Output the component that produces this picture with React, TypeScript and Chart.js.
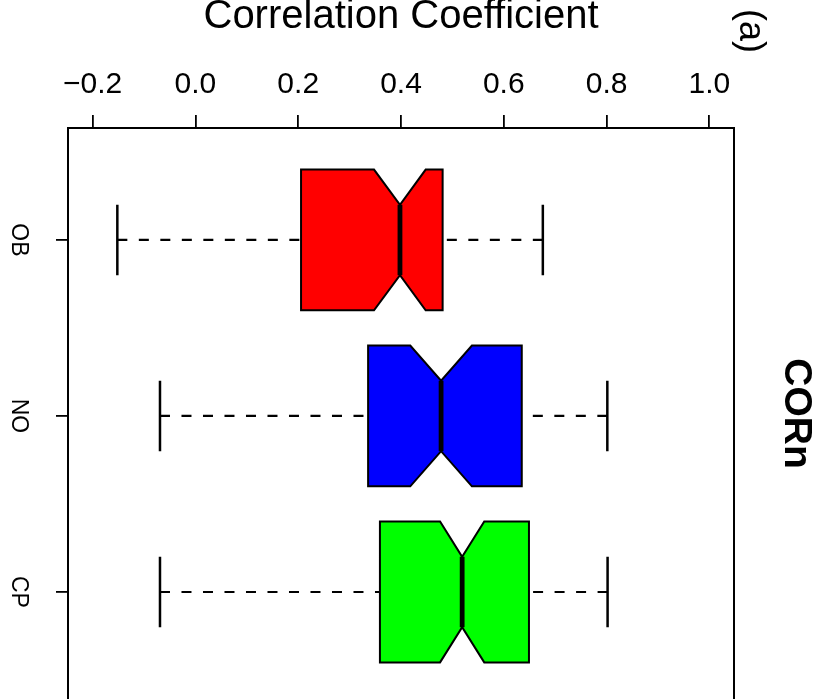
import React, { useEffect, useRef } from "react";
import { Chart, registerables } from "chart.js";

Chart.register(...registerables);

const categories = ["OB", "NO", "CP"];
const whiskerLow = [-0.152, -0.069, -0.069];
const q1 = [0.2055, 0.336, 0.359];
const notchLow = [0.3475, 0.418, 0.476];
const median = [0.398, 0.478, 0.519];
const notchHigh = [0.448, 0.538, 0.562];
const q3 = [0.481, 0.635, 0.649];
const whiskerHigh = [0.676, 0.8015, 0.802];
const boxColors = ["#FF0000", "#0000FF", "#00FF00"];
const xTickValues = [-0.2, 0.0, 0.2, 0.4, 0.6, 0.8, 1.0];
const xTickLabels = ["\u22120.2", "0.0", "0.2", "0.4", "0.6", "0.8", "1.0"];

const FONT = "'Liberation Sans', Arial, Helvetica, sans-serif";

const boxPlugin = {
  id: "notchedBoxes",
  afterDatasetsDraw(chart: any) {
    const ctx = chart.ctx;
    const xs = chart.scales.x;
    const ys = chart.scales.y;
    ctx.save();
    for (let i = 0; i < categories.length; i++) {
      const pos = i + 1;
      const yc = ys.getPixelForValue(pos);
      const yTop = ys.getPixelForValue(pos - 0.4);
      const yBot = ys.getPixelForValue(pos + 0.4);
      const nTop = ys.getPixelForValue(pos - 0.2);
      const nBot = ys.getPixelForValue(pos + 0.2);
      const px = (v: number) => xs.getPixelForValue(v);

      // whiskers
      ctx.strokeStyle = "#000";
      ctx.lineWidth = 2.2;
      ctx.setLineDash([10, 11.5]);
      ctx.beginPath();
      ctx.moveTo(px(whiskerLow[i]), yc);
      ctx.lineTo(px(q1[i]), yc);
      ctx.moveTo(px(whiskerHigh[i]), yc);
      ctx.lineTo(px(q3[i]), yc);
      ctx.stroke();
      ctx.setLineDash([]);

      // staples
      ctx.lineWidth = 2.5;
      ctx.beginPath();
      ctx.moveTo(px(whiskerLow[i]), nTop);
      ctx.lineTo(px(whiskerLow[i]), nBot);
      ctx.moveTo(px(whiskerHigh[i]), nTop);
      ctx.lineTo(px(whiskerHigh[i]), nBot);
      ctx.stroke();

      // notched box
      ctx.beginPath();
      ctx.moveTo(px(q1[i]), yTop);
      ctx.lineTo(px(notchLow[i]), yTop);
      ctx.lineTo(px(median[i]), nTop);
      ctx.lineTo(px(notchHigh[i]), yTop);
      ctx.lineTo(px(q3[i]), yTop);
      ctx.lineTo(px(q3[i]), yBot);
      ctx.lineTo(px(notchHigh[i]), yBot);
      ctx.lineTo(px(median[i]), nBot);
      ctx.lineTo(px(notchLow[i]), yBot);
      ctx.lineTo(px(q1[i]), yBot);
      ctx.closePath();
      ctx.fillStyle = boxColors[i];
      ctx.fill();
      ctx.lineWidth = 2;
      ctx.lineJoin = "miter";
      ctx.stroke();

      // median
      ctx.lineWidth = 4.8;
      ctx.lineCap = "butt";
      ctx.beginPath();
      ctx.moveTo(px(median[i]), nTop);
      ctx.lineTo(px(median[i]), nBot);
      ctx.stroke();
    }
    ctx.restore();
  },
  afterDraw(chart: any) {
    const ctx = chart.ctx;
    ctx.save();
    ctx.translate(750, 31);
    ctx.rotate(Math.PI / 2);
    ctx.font = `36px ${FONT}`;
    ctx.fillStyle = "#000";
    ctx.textAlign = "center";
    ctx.textBaseline = "middle";
    ctx.fillText("(a)", 0, 0);
    ctx.restore();
  },
};

export default function App() {
  const canvasRef = useRef<HTMLCanvasElement | null>(null);

  useEffect(() => {
    document.body.style.margin = "0";
    const canvas = canvasRef.current;
    if (!canvas) return;
    const chart = new Chart(canvas, {
      type: "scatter",
      data: {
        datasets: [
          {
            data: median.map((m, i) => ({ x: m, y: i + 1 })),
            pointRadius: 0,
            showLine: false,
          },
        ],
      },
      options: {
        animation: false,
        responsive: false,
        devicePixelRatio: 1,
        layout: { padding: 0 },
        plugins: {
          legend: { display: false },
          tooltip: { enabled: false },
        },
        scales: {
          x: {
            type: "linear",
            position: "top",
            min: -0.248,
            max: 1.048,
            afterBuildTicks: (scale: any) => {
              scale.ticks = xTickValues.map((v) => ({ value: v }));
            },
            afterFit: (scale: any) => {
              scale.height = 128;
              scale.paddingLeft = 0;
              scale.paddingRight = 0;
            },
            ticks: {
              color: "#000",
              padding: 12,
              maxRotation: 0,
              minRotation: 0,
              font: { family: FONT, size: 30 },
              callback: (_v: any, idx: number) => xTickLabels[idx],
            },
            grid: {
              display: true,
              drawOnChartArea: false,
              drawTicks: true,
              tickLength: 13,
              color: "#000",
              lineWidth: 1.8,
            },
            border: { display: true, color: "#000", width: 2 },
            title: {
              display: true,
              text: "Correlation Coefficient",
              color: "#000",
              font: { family: FONT, size: 40, lineHeight: 0.85 },
              padding: { top: 0, bottom: 0 },
            },
          },
          y: {
            type: "linear",
            position: "left",
            reverse: true,
            min: 0.364,
            max: 3.608,
            afterBuildTicks: (scale: any) => {
              scale.ticks = categories.map((_c, i) => ({ value: i + 1 }));
            },
            afterFit: (scale: any) => {
              scale.width = 68;
              scale.paddingTop = 0;
              scale.paddingBottom = 0;
            },
            ticks: {
              color: "#000",
              padding: 20,
              minRotation: -90,
              maxRotation: -90,
              crossAlign: "center",
              font: { family: FONT, size: 23 },
              callback: (v: any) => categories[Math.round(v) - 1],
            },
            grid: {
              display: true,
              drawOnChartArea: false,
              drawTicks: true,
              tickLength: 12,
              color: "#000",
              lineWidth: 1.8,
            },
            border: { display: true, color: "#000", width: 2 },
          },
          y2: {
            type: "linear",
            position: "right",
            min: 0,
            max: 1,
            afterFit: (scale: any) => {
              scale.width = 87;
              scale.paddingTop = 0;
              scale.paddingBottom = 0;
            },
            ticks: { display: false },
            grid: { display: false, drawTicks: false },
            border: { display: true, color: "#000", width: 2 },
            title: {
              display: true,
              text: "CORn",
              color: "#000",
              font: { family: FONT, size: 39, weight: "bold", lineHeight: 1 },
              padding: { top: 6, bottom: 0 },
            },
          },
        },
      },
      plugins: [boxPlugin],
    } as any);
    return () => chart.destroy();
  }, []);

  return (
    <div style={{ width: 821, height: 699, position: "relative" }}>
      <canvas ref={canvasRef} width={821} height={699} style={{ display: "block" }} />
    </div>
  );
}
